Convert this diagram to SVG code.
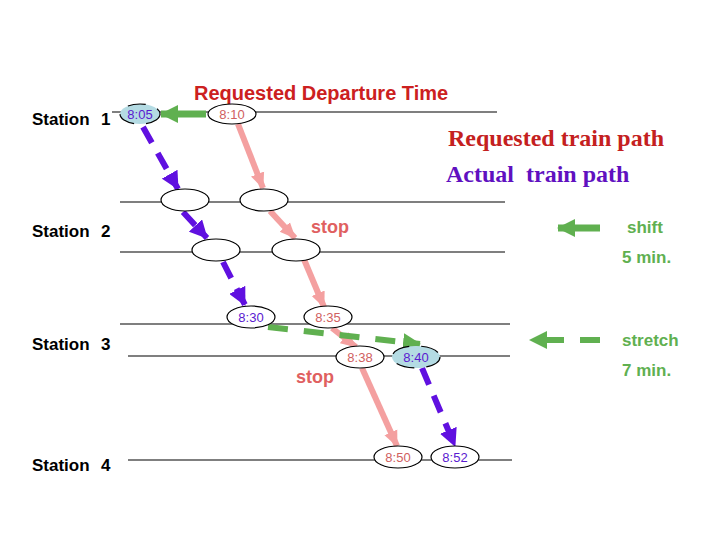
<svg xmlns="http://www.w3.org/2000/svg" width="720" height="540" viewBox="0 0 720 540">
<defs>
<style>
.track{stroke:#000;stroke-width:1.2;fill:none}
.node ellipse{stroke:#000;stroke-width:1.2;fill:#fff}
.node ellipse.act{fill:#b4dbe3}
.t{font-family:"Liberation Sans",Arial,sans-serif;font-size:13px;text-anchor:middle}
.tr{fill:#d06060}
.ta{fill:#5a1ad0}
.st{font-family:"Liberation Sans",Arial,sans-serif;font-size:17px;font-weight:bold;fill:#000}
.req{stroke:#f4a0a0;stroke-width:6;fill:none}
.act{stroke:#6010e0;stroke-width:6;fill:none;stroke-dasharray:18 12}
.grn{stroke:#60b050;stroke-width:7;fill:none}
.grnd{stroke:#60b050;stroke-width:6;fill:none;stroke-dasharray:20 16}
.gtxt{font-family:"Liberation Sans",Arial,sans-serif;font-size:17px;font-weight:bold;fill:#60b050}
.stop{font-family:"Liberation Sans",Arial,sans-serif;font-size:18px;font-weight:bold;fill:#e06060}
.tm{font-family:"Liberation Serif","Times New Roman",serif;font-size:24px;font-weight:bold}
</style>
<marker id="mReq" markerUnits="userSpaceOnUse" markerWidth="16" markerHeight="16" viewBox="0 0 16 16" refX="15" refY="8" orient="auto"><path d="M0,1 L16,8 L0,15 Z" fill="#f4a0a0"/></marker>
<marker id="mAct" markerUnits="userSpaceOnUse" markerWidth="18" markerHeight="18" viewBox="0 0 18 18" refX="17" refY="9" orient="auto"><path d="M0,0 L18,9 L0,18 Z" fill="#6010e0"/></marker>
<marker id="mGrn" markerUnits="userSpaceOnUse" markerWidth="18" markerHeight="18" viewBox="0 0 18 18" refX="17" refY="9" orient="auto"><path d="M0,0 L18,9 L0,18 Z" fill="#60b050"/></marker>
</defs>
<rect width="720" height="540" fill="#fff"/>
<g id="tracks">
<line class="track" x1="112" y1="112" x2="497" y2="112"/>
<line class="track" x1="120" y1="202" x2="505" y2="202"/>
<line class="track" x1="120" y1="252" x2="505" y2="252"/>
<line class="track" x1="120" y1="324" x2="510" y2="324"/>
<line class="track" x1="128" y1="356" x2="510" y2="356"/>
<line class="track" x1="128" y1="460" x2="512" y2="460"/>
</g>
<g id="labels">
<text x="194" y="100" font-family="Liberation Sans,Arial,sans-serif" font-size="20" font-weight="bold" fill="#cc2020">Requested Departure Time</text>
<text class="st" x="32" y="125">Station</text><text class="st" x="101" y="125">1</text>
<text class="st" x="32" y="237">Station</text><text class="st" x="101" y="237">2</text>
<text class="st" x="32" y="350">Station</text><text class="st" x="101" y="350">3</text>
<text class="st" x="32" y="471">Station</text><text class="st" x="101" y="471">4</text>
<text class="tm" x="448" y="146" fill="#c42020">Requested train path</text>
<text class="tm" x="446" y="182" fill="#6010c0" xml:space="preserve">Actual  train path</text>
<text class="stop" x="311" y="233">stop</text>
<text class="stop" x="296" y="383">stop</text>
<text class="gtxt" x="627" y="233">shift</text>
<text class="gtxt" x="622" y="263">5 min.</text>
<text class="gtxt" x="622" y="346">stretch</text>
<text class="gtxt" x="622" y="376">7 min.</text>
</g>
<g id="connectors">
<line class="grn" x1="206" y1="114" x2="161" y2="114" marker-end="url(#mGrn)"/>
<line class="req" x1="238" y1="124" x2="263" y2="188" marker-end="url(#mReq)"/>
<line class="req" x1="270" y1="211" x2="295" y2="238" marker-end="url(#mReq)"/>
<line class="req" x1="303" y1="257" x2="324" y2="307" marker-end="url(#mReq)"/>
<line class="req" x1="332" y1="328" x2="356" y2="347" marker-end="url(#mReq)"/>
<line class="req" x1="362" y1="368" x2="397" y2="446" marker-end="url(#mReq)"/>
<line class="act" x1="143" y1="127" x2="178" y2="189" marker-end="url(#mAct)"/>
<line class="act" x1="183" y1="212" x2="207" y2="238" marker-end="url(#mAct)"/>
<line class="act" x1="223" y1="262" x2="245" y2="305" marker-end="url(#mAct)"/>
<line class="act" x1="422" y1="368" x2="455" y2="446" marker-end="url(#mAct)"/>
<line class="grnd" x1="268" y1="327" x2="420" y2="344" marker-end="url(#mGrn)"/>
<line class="grn" x1="600" y1="228" x2="558" y2="228" marker-end="url(#mGrn)"/>
<line class="grnd" x1="600" y1="340" x2="530" y2="340" marker-end="url(#mGrn)"/>
</g>
<g id="n805" class="node"><ellipse class="act" cx="140" cy="114" rx="20" ry="10"/><text class="t ta" x="140" y="119">8:05</text></g>
<g id="n810" class="node"><ellipse cx="232" cy="114" rx="24" ry="10"/><text class="t tr" x="232" y="119">8:10</text></g>
<g id="n2a" class="node"><ellipse cx="185" cy="200" rx="24" ry="11"/></g>
<g id="n2b" class="node"><ellipse cx="264" cy="200" rx="24" ry="11"/></g>
<g id="n2c" class="node"><ellipse cx="216" cy="250" rx="24" ry="11"/></g>
<g id="n2d" class="node"><ellipse cx="296" cy="250" rx="24" ry="11"/></g>
<g id="n830" class="node"><ellipse cx="251" cy="317" rx="24" ry="11"/><text class="t ta" x="251" y="322">8:30</text></g>
<g id="n835" class="node"><ellipse cx="328" cy="317" rx="24" ry="11"/><text class="t tr" x="328" y="322">8:35</text></g>
<g id="n838" class="node"><ellipse cx="360" cy="357" rx="24" ry="11"/><text class="t tr" x="360" y="362">8:38</text></g>
<g id="n840" class="node"><ellipse class="act" cx="416" cy="357" rx="24" ry="11"/><text class="t ta" x="416" y="362">8:40</text></g>
<g id="n850" class="node"><ellipse cx="398" cy="457" rx="24" ry="11"/><text class="t tr" x="398" y="462">8:50</text></g>
<g id="n852" class="node"><ellipse cx="455" cy="457" rx="24" ry="11"/><text class="t ta" x="455" y="462">8:52</text></g>
</svg>
